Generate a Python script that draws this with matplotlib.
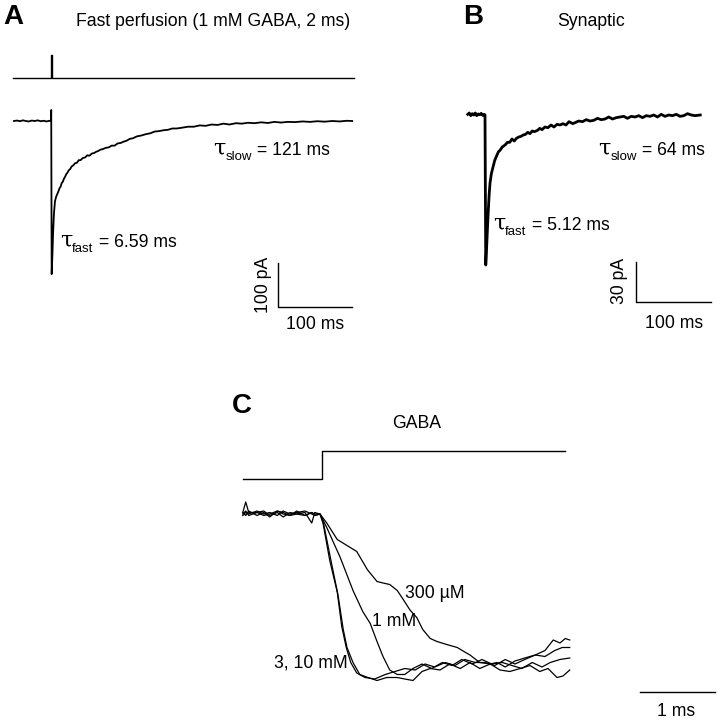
import matplotlib
matplotlib.use('Agg')
import matplotlib.pyplot as plt

plt.rcParams['font.family'] = ['Liberation Sans', 'DejaVu Sans']

# ---- Panel A: fast perfusion, 1 mM GABA, 2 ms (time in ms, current in pA)
a_t = [-50, -46, -42, -38, -34, -30, -26, -22, -18, -14, -10, -6, -2, 0,
       0.3, 0.9, 2, 2.8, 4, 5.4, 7, 8.5, 10, 11.5, 13, 14.5, 16, 17.5, 19, 20.5,
       22, 24, 26, 28, 30, 32.5, 35, 37.5, 40, 43, 46, 49, 52, 55, 58, 61, 64,
       67, 70, 74, 78, 82, 86, 90, 94, 98, 102, 106, 111, 116, 122, 128, 134,
       140, 146, 152, 158, 164, 170, 178, 185, 193, 201, 209, 217, 225, 233,
       241, 250, 258, 266, 275, 284, 293, 302, 311, 320, 330, 340, 350, 360,
       370, 380, 390, 400, 407]
a_i = [0, 1, -0.5, 1.5, 0, -1, 1, 0, 1.5, -0.5, 0.5, -1, 0.5, 0,
       25, -348, -300, -255, -210, -182, -172, -166, -160, -153, -149, -141,
       -138, -131, -127, -121, -118, -112, -109, -103, -101, -96, -95, -89,
       -89, -84, -83, -78, -79, -74, -73, -70, -68, -65, -64, -61, -60, -56,
       -56, -51, -50, -47, -45, -41, -39, -35, -33, -30, -28, -24, -23, -21,
       -20, -17, -17, -15, -13, -13, -10, -11, -8, -9, -6, -8, -5, -6, -4, -5,
       -3, -4.5, -2, -3.5, -2, -2.5, -1, -2, -0.5, -1.5, 0, -1, 0.5, 0]
a_stim_t = [-51, 0, 0, 2, 2, 410]
a_stim_i = [97.7, 97.7, 150, 150, 97.7, 97.7]

# ---- Panel B: synaptic current (ms, pA)
b_t = [-23, -21, -19, -17, -15, -13, -11, -9, -7, -5, -3, -1, 0,
       1.0, 2.5, 4, 5.5, 6.7, 8.5, 10.7, 13, 16, 18, 20, 23, 26.7, 30, 33, 36,
       39, 42, 45, 48, 51, 54, 57, 60, 63, 66, 70, 73, 76, 80, 84, 88, 92, 96,
       100, 104, 108, 112, 117, 121, 125, 130, 135, 140, 145, 150, 155, 160,
       165, 170, 175, 180, 185, 190, 195, 200, 205, 210, 215, 220, 225, 230,
       235, 240, 245, 250, 255, 260, 265, 270, 275, 280, 287]
b_i = [0.5, 1.5, -0.5, 1.0, 0.0, 1.5, -0.5, 0.8, 0.2, 1.2, -0.3, 0.5, 0,
       -112.5, -95, -76, -60, -51, -44, -39, -34, -30, -27.5, -26.5, -24,
       -22.5, -20.5, -20.5, -18, -19.5, -17.5, -16.5, -16, -15, -14.5, -13,
       -14, -12, -12.5, -11.5, -10, -11, -9, -9.5, -7.5, -9, -7, -7.5, -6.5,
       -7.5, -5, -6.5, -5.5, -4.5, -5, -3.5, -4.5, -4, -2.5, -3.5, -3, -1.5,
       -3, -2, -1.5, -1, -2.5, -1, -1.5, -0.5, -2, -0.5, -1, 0, -1.5, 0.5, -1,
       0, -0.5, 0.5, -1, -0.5, 1, 0, -0.5, 0]

# ---- Panel C: onset of responses to GABA steps (ms, normalised current)
c_base_t = [-1.03, -0.99, -0.95, -0.84, -0.75, -0.67, -0.57, -0.49, -0.40,
            -0.31, -0.20, -0.11, -0.07, 0]
c_10_t = c_base_t + [0.05, 0.15, 0.24, 0.31, 0.36, 0.44, 0.53, 0.64, 0.76,
                     0.89, 1.03, 1.13, 1.24, 1.36, 1.47, 1.60, 1.73, 1.87,
                     2.00, 2.13, 2.27, 2.40, 2.53, 2.67, 2.80, 2.93, 3.04,
                     3.16, 3.24, 3.33]
c_10_v = [0.01, 0.08, 0.01, 0.01, -0.01, 0, 0.02, 0.01, -0.01, 0, 0.01, -0.06,
          0.01, 0,
          -0.07, -0.32, -0.54, -0.77, -0.89, -0.99, -1.07, -1.09, -1.11, -1.09,
          -1.09, -1.10, -1.11, -1.05, -1.03, -1.04, -1.00, -1.03, -0.99, -1.03,
          -1.00, -1.04, -1.05, -1.03, -1.01, -1.05, -1.03, -1.09, -1.08, -1.04]
c_3_t = c_base_t + [0.04, 0.13, 0.23, 0.29, 0.35, 0.41, 0.49, 0.60, 0.73,
                    0.87, 1.00, 1.13, 1.27, 1.40, 1.53, 1.67, 1.80, 1.93,
                    2.07, 2.20, 2.33, 2.47, 2.60, 2.73, 2.87, 3.00, 3.13,
                    3.23, 3.33]
c_3_v = [0.01, -0.01, 0.02, -0.01, 0.01, -0.02, 0.02, 0.0, -0.01, 0.02, -0.01,
         0.01, -0.01, 0,
         -0.06, -0.31, -0.52, -0.75, -0.89, -0.99, -1.06, -1.09, -1.10, -1.07,
         -1.05, -1.03, -1.04, -1.00, -1.02, -0.99, -1.01, -0.97, -0.99, -0.99,
         -1.01, -0.97, -1.00, -0.97, -0.94, -0.95, -0.91, -0.89, -0.89]
c_1_t = c_base_t + [0.09, 0.27, 0.44, 0.57, 0.67, 0.76, 0.84, 0.93, 1.03,
                    1.13, 1.24, 1.36, 1.49, 1.63, 1.76, 1.89, 2.03, 2.16,
                    2.29, 2.43, 2.56, 2.69, 2.83, 2.96, 3.07, 3.20, 3.33]
c_1_v = [0.0, 0.02, -0.01, 0.01, 0.02, -0.01, 0.01, -0.02, 0.01, 0.0, -0.01,
         0.01, 0.0, 0,
         -0.09, -0.29, -0.51, -0.65, -0.73, -0.85, -0.95, -1.04, -1.07, -1.07,
         -1.03, -1.00, -1.03, -0.99, -1.01, -0.97, -1.00, -0.97, -1.00, -0.99,
         -1.01, -1.03, -0.99, -1.02, -0.99, -0.97, -0.96]
c_300_t = c_base_t + [0.09, 0.23, 0.36, 0.49, 0.63, 0.76, 0.84, 0.93, 1.03,
                      1.11, 1.20, 1.29, 1.37, 1.47, 1.56, 1.69, 1.83, 1.93,
                      2.00, 2.13, 2.27, 2.36, 2.47, 2.60, 2.73, 2.87, 3.00,
                      3.11, 3.20, 3.27, 3.33]
c_300_v = [-0.01, 0.01, 0.0, 0.02, 0.0, 0.01, -0.01, 0.02, 0.0, 0.01, 0.02,
           0.0, -0.01, 0,
           -0.06, -0.17, -0.21, -0.25, -0.37, -0.45, -0.46, -0.47, -0.51,
           -0.57, -0.64, -0.69, -0.77, -0.83, -0.85, -0.87, -0.89, -0.92,
           -0.94, -0.99, -1.00, -0.99, -1.02, -0.98, -0.96, -0.94, -0.91,
           -0.84, -0.86, -0.83, -0.84]
c_stim_t = [-1.03, 0.03, 0.03, 3.27]
c_stim_v = [0.233, 0.233, 0.42, 0.42]

W, H = 717, 720
FS = 12.7
fig = plt.figure(figsize=(W / 100, H / 100), dpi=100)
renderer = fig.canvas.get_renderer()


def panel_axes(x0, y0, px_x, px_y):
    # full-figure transparent axes; (x0, y0) is the pixel of the data origin
    ax = fig.add_axes([0, 0, 1, 1])
    ax.set_xlim(-x0 / px_x, (W - x0) / px_x)
    ax.set_ylim(-(H - y0) / px_y, y0 / px_y)
    ax.axis('off')
    ax.patch.set_alpha(0)
    return ax


def ftext(x, y, s, **kw):
    kw.setdefault('va', 'center')
    kw.setdefault('fontsize', FS)
    return fig.text(x / W, 1 - y / H, s, **kw)


def tau_label(x, y, sub, rest):
    # y is the text baseline in pixels from the top
    t1 = ftext(x, y, '\u03c4', family='DejaVu Serif', fontsize=16, va='baseline')
    x1 = t1.get_window_extent(renderer).x1
    t2 = ftext(x1, y + 4.5, sub, fontsize=9.5, va='baseline')
    x2 = t2.get_window_extent(renderer).x1
    ftext(x2, y, ' = ' + rest, va='baseline')


k = dict(color='black', lw=1.0, solid_joinstyle='round')

# Panel A
axA = panel_axes(51, 121, 0.74, 0.44)
axA.plot(a_stim_t, a_stim_i, **k)
axA.plot(a_t, a_i, color='black', lw=1.3)
axA.plot([306.8, 306.8, 406.8], [-322.7, -422.7, -422.7], **k)

# Panel B
axB = panel_axes(485, 115, 0.75, 40 / 30)
axB.plot(b_t, b_i, color='black', lw=2.0)
axB.plot([201.3, 201.3, 301.3], [-110.3, -140.3, -140.3], **k)

# Panel C
axC = panel_axes(320, 514, 75, 150)
axC.plot(c_stim_t, c_stim_v, **k)
for tt, vv in [(c_300_t, c_300_v), (c_1_t, c_1_v), (c_3_t, c_3_v), (c_10_t, c_10_v)]:
    axC.plot(tt, vv, color='black', lw=0.9)
axC.plot([4.267, 5.267], [-1.187, -1.187], **k)

# texts
ftext(3, 17, 'A', fontsize=20, fontweight='bold')
ftext(463, 17, 'B', fontsize=20, fontweight='bold')
ftext(232, 406, 'C', fontsize=20, fontweight='bold')
ftext(213, 22, 'Fast perfusion (1 mM GABA, 2 ms)', ha='center')
ftext(591, 22, 'Synaptic', ha='center')
ftext(417, 423, 'GABA', ha='center')

tau_label(213, 155, 'slow', '121 ms')
tau_label(60, 247, 'fast', '6.59 ms')
tau_label(598, 155, 'slow', '64 ms')
tau_label(493, 230, 'fast', '5.12 ms')

ftext(264, 285, '100 pA', rotation=90, ha='center')
ftext(315, 325, '100 ms', ha='center')
ftext(619, 281, '30 pA', rotation=90, ha='center')
ftext(674, 323, '100 ms', ha='center')

ftext(405, 593, '300 µM')
ftext(372, 622, '1 mM')
ftext(348, 663, '3, 10 mM', ha='right')
ftext(676, 711, '1 ms', ha='center')

fig.savefig('out.png', dpi=100)
